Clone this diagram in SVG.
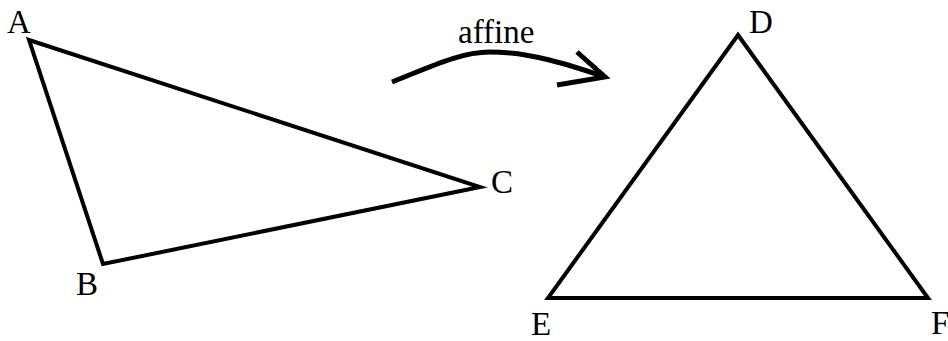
<svg xmlns="http://www.w3.org/2000/svg" width="948" height="341" viewBox="0 0 948 341">
<style>
.t{font-family:"Liberation Serif","Times New Roman",serif;font-size:33px;fill:#000}
.s{fill:none;stroke:#000;stroke-width:4;stroke-linejoin:miter}
</style>
<rect width="948" height="341" fill="#fff"/>
<g id="tri1">
<polygon class="s" points="29,40 480,187 103,264"/>
</g>
<g id="tri2">
<polygon class="s" points="738,35 548,298 928,298"/>
</g>
<g id="nodeA"><text class="t" x="7" y="33">A</text></g>
<g id="nodeB"><text class="t" x="76" y="295">B</text></g>
<g id="nodeC"><text class="t" x="491" y="193">C</text></g>
<g id="nodeD"><text class="t" x="749" y="33">D</text></g>
<g id="nodeE"><text class="t" x="531" y="335">E</text></g>
<g id="nodeF"><text class="t" x="931" y="334">F</text></g>
<g id="connectors">
<path class="s" style="stroke-width:5" d="M392,82 C430,67 460,52 490,52 C530,52 570,65 605,77"/>
<path class="s" style="stroke-width:5" d="M577,52 L605,77 L557,85"/>
<text class="t" x="458" y="43">affine</text>
</g>
</svg>
